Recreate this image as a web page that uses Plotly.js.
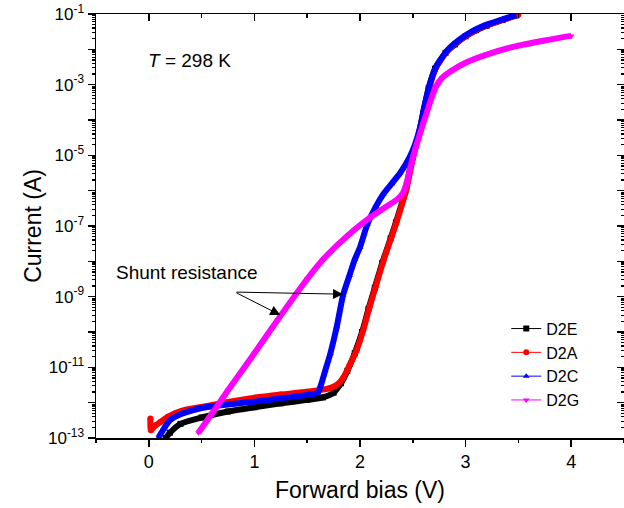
<!DOCTYPE html>
<html>
<head>
<meta charset="utf-8">
<script src="https://cdn.plot.ly/plotly-3.0.1.min.js"></script>
<style>
html,body{margin:0;padding:0;background:#fff;}
#chart{width:624px;height:508px;}
</style>
</head>
<body>
<div id="chart"></div>
<script>
// ---- data (forward bias in V, current in A) ----
var d2eV = [0.16,0.2,0.3,0.5,0.75,1.0,1.25,1.5,1.65,1.75,1.82,1.88,1.95,2.02,2.08,2.14,2.21,2.29,2.34,2.43,2.49,2.55,2.6,2.65,2.71,2.81,2.9,3.0,3.1,3.2,3.35,3.48];
var d2eI = [1.0e-13,1.41e-13,2.51e-13,3.80e-13,5.62e-13,7.41e-13,9.55e-13,1.20e-12,1.41e-12,1.91e-12,3.55e-12,7.94e-12,2.51e-11,1.0e-10,4.47e-10,1.78e-9,8.91e-9,4.47e-8,1.26e-7,1.0e-6,7.08e-6,3.16e-5,1.58e-4,7.94e-4,2.82e-3,7.94e-3,1.38e-2,2.34e-2,3.47e-2,4.68e-2,6.76e-2,9.12e-2];

var d2aV = [0.015,0.02,0.06,0.11,0.18,0.25,0.35,0.5,0.75,1.0,1.25,1.5,1.7,1.78,1.84,1.9,1.97,2.03,2.09,2.15,2.22,2.3,2.35,2.44,2.5,2.55,2.6,2.66,2.72,2.82,2.9,3.0,3.1,3.2,3.35,3.5];
var d2aI = [3.55e-13,1.66e-13,2.24e-13,2.82e-13,3.98e-13,5.01e-13,6.31e-13,7.59e-13,1.05e-12,1.38e-12,1.70e-12,2.04e-12,2.51e-12,3.16e-12,5.01e-12,1.12e-11,3.16e-11,1.12e-10,5.01e-10,2.0e-9,1.0e-8,5.01e-8,1.41e-7,1.12e-6,7.94e-6,3.16e-5,1.58e-4,8.91e-4,3.02e-3,8.51e-3,1.45e-2,2.40e-2,3.55e-2,4.79e-2,6.76e-2,9.55e-2];

var d2cV = [0.09,0.14,0.2,0.3,0.5,0.75,1.0,1.25,1.5,1.6,1.63,1.67,1.72,1.78,1.84,1.9,1.95,2.0,2.07,2.15,2.22,2.3,2.38,2.47,2.52,2.57,2.61,2.66,2.72,2.82,2.9,3.0,3.1,3.2,3.35,3.48];
var d2cI = [1.0e-13,1.78e-13,3.16e-13,4.68e-13,7.08e-13,8.91e-13,1.07e-12,1.32e-12,1.66e-12,1.91e-12,3.16e-12,7.94e-12,2.51e-11,1.41e-10,1.12e-9,3.98e-9,1.12e-8,2.51e-8,1.12e-7,3.55e-7,7.94e-7,1.58e-6,3.16e-6,8.91e-6,2.0e-5,6.31e-5,2.51e-4,1.0e-3,3.16e-3,8.91e-3,1.51e-2,2.51e-2,3.72e-2,5.01e-2,7.08e-2,9.33e-2];

var d2gV = [0.47,0.6,0.75,1.0,1.25,1.5,1.65,1.8,1.95,2.1,2.25,2.35,2.4,2.44,2.48,2.52,2.57,2.62,2.68,2.72,2.78,2.86,3.0,3.2,3.45,3.75,4.0];
var d2gI = [1.41e-13,5.01e-13,2.24e-12,2.51e-11,2.95e-10,3.16e-9,1.12e-8,3.16e-8,7.94e-8,1.78e-7,3.55e-7,5.62e-7,7.94e-7,1.58e-6,5.01e-6,1.41e-5,4.27e-5,1.26e-4,4.47e-4,8.91e-4,1.58e-3,2.40e-3,4.17e-3,7.08e-3,1.17e-2,1.78e-2,2.40e-2];

var seriesNames = ['D2E','D2A','D2C','D2G'];

// ---- tick values / labels ----
var xMajorTicks = [0,1,2,3,4];
var xMinorTicks = [-0.5,0.5,1.5,2.5,3.5,4.5];
var yLabelTicks = [1e-13,1e-11,1e-9,1e-7,1e-5,1e-3,1e-1];
var yLabelText  = ['10<sup>-13</sup>','10<sup>-11</sup>','10<sup>-9</sup>','10<sup>-7</sup>','10<sup>-5</sup>','10<sup>-3</sup>','10<sup>-1</sup>'];
var yEvenTicks  = [1e-12,1e-10,1e-8,1e-6,1e-4,1e-2];
var yAllDecades = [1e-13,1e-12,1e-11,1e-10,1e-9,1e-8,1e-7,1e-6,1e-5,1e-4,1e-3,1e-2,1e-1];
var yMinorTicks = [];
for (var e = -13; e <= -2; e++) { for (var d = 2; d <= 9; d++) { yMinorTicks.push(d * Math.pow(10, e)); } }

var FONT = 'Arial, "Liberation Sans", Helvetica, sans-serif';
var XR = [-0.5, 4.5], YR = [-13, -1];

var sets = [
  {v:d2eV, i:d2eI, c:'#000000', s:'square',        xa:'x2', ya:'y2'},
  {v:d2aV, i:d2aI, c:'#ff0000', s:'circle',        xa:'x3', ya:'y3'},
  {v:d2cV, i:d2cI, c:'#0000ff', s:'triangle-up',   xa:'x4', ya:'y4'},
  {v:d2gV, i:d2gI, c:'#ff00ff', s:'triangle-down', xa:'x4', ya:'y5'}
];
var traces = [];
// legend traces (thin line + symbol) on the main axes
sets.forEach(function(st, k){
  traces.push({x:st.v, y:st.i, type:'scatter', mode:'lines+markers', name:seriesNames[k],
    xaxis:'x', yaxis:'y',
    line:{color:st.c, width:1, shape:'spline', smoothing:0.6},
    marker:{color:st.c, symbol:st.s, size:6}});
});
// thick bands (dense-marker look), drawn on overlay axes in order
sets.forEach(function(st){
  traces.push({x:st.v, y:st.i, type:'scatter', mode:'lines', showlegend:false,
    xaxis:st.xa, yaxis:st.ya,
    line:{color:st.c, width:6, shape:'spline', smoothing:0.6}, hoverinfo:'skip'});
});

function xAx(extra){
  return Object.assign({range:XR, showgrid:false, zeroline:false, tickmode:'array',
    tickcolor:'#000', tickwidth:1.5, showline:false, showticklabels:false}, extra);
}
function yAx(extra){
  return Object.assign({type:'log', range:YR, showgrid:false, zeroline:false, tickmode:'array',
    tickcolor:'#000', tickwidth:1.5, showline:false, showticklabels:false}, extra);
}

var layout = {
  width:624, height:508,
  margin:{l:96, r:0, t:14, b:70},
  paper_bgcolor:'#fff', plot_bgcolor:'#fff',
  font:{family:FONT, color:'#000'},
  showlegend:true,
  legend:{x:0.777, y:0.298, xanchor:'left', yanchor:'top', bgcolor:'rgba(0,0,0,0)',
    font:{family:FONT, size:16, color:'#000'}, tracegroupgap:0},
  // bottom: major ticks + labels
  xaxis: xAx({tickvals:xMajorTicks, ticks:'outside', ticklen:7, showticklabels:true,
    showline:true, linecolor:'#000', linewidth:1.5,
    tickfont:{family:FONT, size:18, color:'#000'},
    title:{text:'Forward bias (V)', font:{family:FONT, size:23, color:'#000'}, standoff:11}}),
  // left: labelled decades
  yaxis: yAx({tickvals:yLabelTicks, ticktext:yLabelText, ticks:'outside', ticklen:7, showticklabels:true,
    showline:true, linecolor:'#000', linewidth:1.5,
    tickfont:{family:FONT, size:17, color:'#000'},
    title:{text:'Current (A)', font:{family:FONT, size:23, color:'#000'}, standoff:0}}),
  // bottom minor / left unlabelled decades
  xaxis2: xAx({overlaying:'x', anchor:'y2', side:'bottom', tickvals:xMinorTicks, ticks:'outside', ticklen:4}),
  yaxis2: yAx({overlaying:'y', anchor:'x2', side:'left', tickvals:yEvenTicks, ticks:'outside', ticklen:7}),
  // top major (inside) / left minor
  xaxis3: xAx({overlaying:'x', anchor:'y3', side:'top', tickvals:xMajorTicks, ticks:'inside', ticklen:7,
    showline:true, linecolor:'#000', linewidth:1.5}),
  yaxis3: yAx({overlaying:'y', anchor:'x3', side:'left', tickvals:yMinorTicks, ticks:'outside', ticklen:3.5, tickwidth:1.2}),
  // top minor (inside) / right decades (inside)
  xaxis4: xAx({overlaying:'x', anchor:'y4', side:'top', tickvals:xMinorTicks, ticks:'inside', ticklen:4}),
  yaxis4: yAx({overlaying:'y', anchor:'x4', side:'right', tickvals:yAllDecades, ticks:'inside', ticklen:7,
    showline:true, linecolor:'#000', linewidth:1.5}),
  // right minor (inside)
  yaxis5: yAx({overlaying:'y', anchor:'x4', side:'right', tickvals:yMinorTicks, ticks:'inside', ticklen:3.5, tickwidth:1.2}),
  annotations:[
    {x:-0.03, y:-2.33, xref:'x', yref:'y', text:'<i>T</i> = 298 K', showarrow:false,
      xanchor:'left', yanchor:'middle', font:{family:FONT, size:19, color:'#000'}},
    {x:-0.33, y:-8.33, xref:'x', yref:'y', text:'Shunt resistance', showarrow:false,
      xanchor:'left', yanchor:'middle', font:{family:FONT, size:19, color:'#000'}},
    {x:1.245, y:-9.52, xref:'x', yref:'y', ax:0.816, ay:-8.87, axref:'x', ayref:'y',
      text:'', showarrow:true, arrowhead:2, arrowsize:2, arrowwidth:1, arrowcolor:'#000'},
    {x:1.839, y:-8.93, xref:'x', yref:'y', ax:0.816, ay:-8.87, axref:'x', ayref:'y',
      text:'', showarrow:true, arrowhead:2, arrowsize:2, arrowwidth:1, arrowcolor:'#000'}
  ]
};

Plotly.newPlot('chart', traces, layout, {displayModeBar:false, staticPlot:true});
</script>
</body>
</html>
